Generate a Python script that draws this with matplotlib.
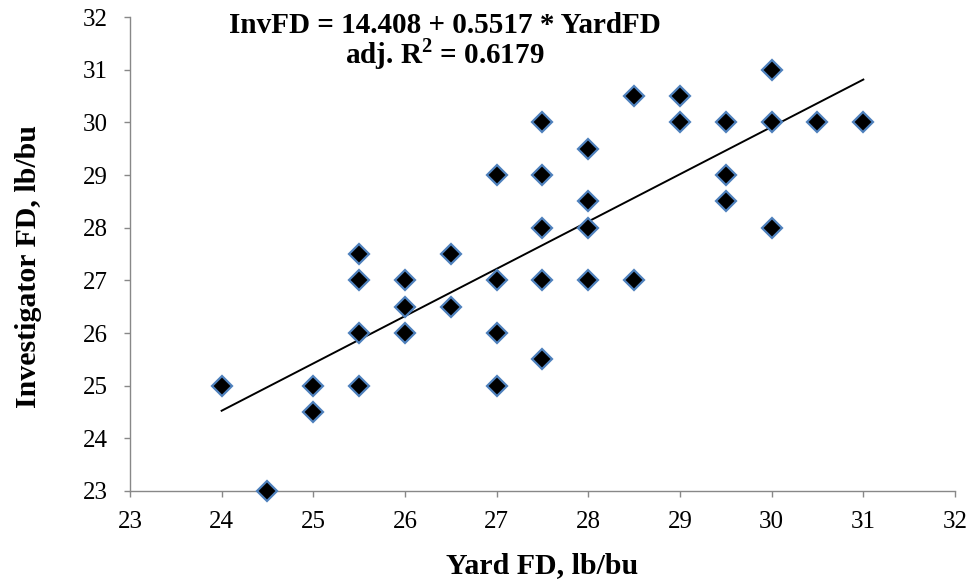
import numpy as np
import matplotlib
matplotlib.use("Agg")
import matplotlib.pyplot as plt

plt.rcParams['font.family'] = ['Liberation Serif', 'DejaVu Serif']
plt.rcParams['mathtext.fontset'] = 'custom'
plt.rcParams['mathtext.rm'] = 'Liberation Serif'
plt.rcParams['mathtext.bf'] = 'Liberation Serif:bold'

yard_fd = [24, 24.5, 25, 25, 25.5, 25.5, 25.5, 25.5, 26, 26, 26, 26.5, 26.5,
           27, 27, 27, 27, 27.5, 27.5, 27.5, 27.5, 27.5, 28, 28, 28, 28,
           28.5, 28.5, 29, 29, 29.5, 29.5, 29.5, 30, 30, 30, 30.5, 31]
inv_fd = [25, 23, 25, 24.5, 27.5, 27, 26, 25, 27, 26.5, 26, 27.5, 26.5,
          29, 27, 26, 25, 30, 29, 28, 27, 25.5, 29.5, 28.5, 28, 27,
          30.5, 27, 30.5, 30, 30, 29, 28.5, 31, 30, 28, 30, 30]
ticks = [23, 24, 25, 26, 27, 28, 29, 30, 31, 32]

fig = plt.figure(figsize=(9.72, 5.88), dpi=100)
ax = fig.add_axes([0.1337, 0.165, 0.8488, 0.806])

x = np.array(yard_fd)
y = np.array(inv_fd)
slope, intercept = np.polyfit(x, y, 1)
xl = np.array([x.min(), x.max()])
ax.plot(xl, intercept + slope * xl, color='black', lw=1.4, zorder=2)

ax.plot(x, y, linestyle='none', marker='D', markersize=10.5,
        markerfacecolor='black', markeredgecolor='#4F81BD',
        markeredgewidth=1.6, zorder=3, clip_on=False)

ax.set_xlim(23, 32)
ax.set_ylim(23, 32)
ax.set_xticks(ticks)
ax.set_yticks(ticks)
ax.tick_params(axis='both', labelsize=18, direction='out', length=4.5,
               color='#888888', width=1)
ax.tick_params(axis='x', pad=10)
ax.tick_params(axis='y', pad=11.5)
for s in ['top', 'right']:
    ax.spines[s].set_visible(False)
for s in ['left', 'bottom']:
    ax.spines[s].set_color('#888888')
    ax.spines[s].set_linewidth(1)

fig.text(0.558, 0.0374, 'Yard FD, lb/bu', ha='center', va='center',
         fontsize=21.5, fontweight='bold')
fig.text(0.029, 0.546, 'Investigator FD, lb/bu', ha='center', va='center',
         rotation=90, fontsize=21.5, fontweight='bold')

fig.text(0.458, 0.944, 'InvFD = 14.408 + 0.5517 * YardFD', ha='center',
         va='baseline', fontsize=21, fontweight='bold')
fig.text(0.458, 0.893, r'adj. R$^\mathbf{2}$ = 0.6179', ha='center',
         va='baseline', fontsize=21, fontweight='bold')

fig.savefig('out.png', dpi=100)
